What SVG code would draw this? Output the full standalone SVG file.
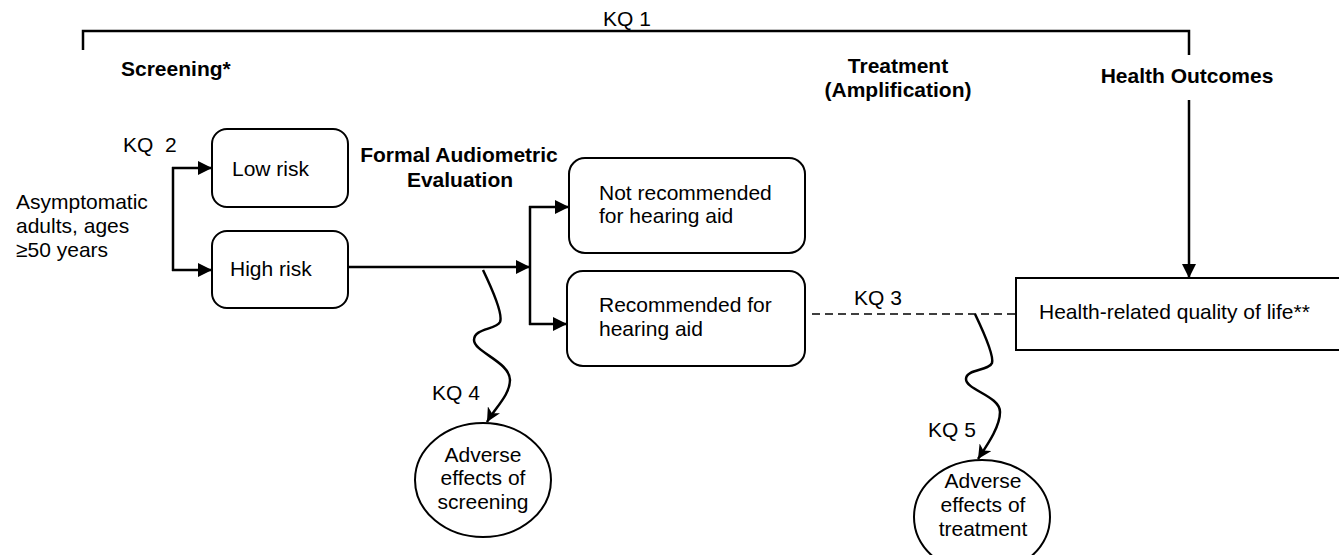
<svg xmlns="http://www.w3.org/2000/svg" width="1339" height="555" viewBox="0 0 1339 555">
<style>
text{font-family:"Liberation Sans",Arial,sans-serif;font-size:21px;fill:#000}
.b{font-weight:bold}
.m{text-anchor:middle}
.pre{white-space:pre}
.box{fill:#fff;stroke:#000;stroke-width:2}
.ln{fill:none;stroke:#000;stroke-width:2.5}
.dash{fill:none;stroke:#000;stroke-width:1.6;stroke-dasharray:8 5}
</style>
<defs>
<marker id="tri" markerUnits="userSpaceOnUse" markerWidth="15" markerHeight="14" refX="14" refY="7" orient="auto">
<path d="M0,0 L14,7 L0,14 z" fill="#000"/>
</marker>
<marker id="barb" markerUnits="userSpaceOnUse" markerWidth="16" markerHeight="14" refX="14" refY="7" orient="auto">
<path d="M0,0 L14,7 L0,14 L4,7 z" fill="#000"/>
</marker>
</defs>

<g id="labels">
<text x="603" y="26">KQ 1</text>
<text class="b" x="121" y="76">Screening*</text>
<text class="b m" x="898" y="73">Treatment</text>
<text class="b m" x="898" y="97">(Amplification)</text>
<text class="b m" x="1187" y="83">Health Outcomes</text>
<text class="b m" x="459" y="162">Formal Audiometric</text>
<text class="b m" x="460" y="187">Evaluation</text>
<text class="pre" x="123" y="152">KQ  2</text>
<text x="854" y="305">KQ 3</text>
<text x="432" y="400">KQ 4</text>
<text x="928" y="437">KQ 5</text>
</g>

<g id="connectors">
<polyline class="ln" points="83,50 83,31 1189,31 1189,55"/>
<line class="ln" x1="1189" y1="100" x2="1189" y2="278" marker-end="url(#tri)"/>
<line class="ln" x1="173" y1="167" x2="173" y2="271"/>
<line class="ln" x1="172" y1="168" x2="212" y2="168" marker-end="url(#tri)"/>
<line class="ln" x1="172" y1="270" x2="212" y2="270" marker-end="url(#tri)"/>
<line class="ln" x1="348" y1="267" x2="530" y2="267" marker-end="url(#tri)"/>
<line class="ln" x1="530" y1="206" x2="530" y2="325"/>
<line class="ln" x1="529" y1="207" x2="569" y2="207" marker-end="url(#tri)"/>
<line class="ln" x1="529" y1="324" x2="567" y2="324" marker-end="url(#tri)"/>
<line class="dash" x1="812" y1="314" x2="1016" y2="314"/>
<path class="ln" d="M483,270 C495,295 503,315 500,322 C496,330 474,328 474,340 C474,352 510,362 510,380 C510,395 495,408 487,422" marker-end="url(#barb)"/>
<path class="ln" d="M975,314 C986,337 994,356 992,363 C989,371 966,369 966,379 C966,390 1000,396 1000,412 C1000,428 985,448 978,459" marker-end="url(#barb)"/>
</g>

<g id="start">
<text x="16" y="209">Asymptomatic</text>
<text x="16" y="233">adults, ages</text>
<text x="16" y="257">≥50 years</text>
</g>

<g id="lowrisk">
<rect class="box" x="212" y="129" width="136" height="78" rx="15"/>
<text x="232" y="176">Low risk</text>
</g>

<g id="highrisk">
<rect class="box" x="212" y="231" width="136" height="77" rx="15"/>
<text x="230" y="276">High risk</text>
</g>

<g id="notrec">
<rect class="box" x="569" y="158" width="236" height="95" rx="16"/>
<text x="599" y="200">Not recommended</text>
<text x="599" y="223">for hearing aid</text>
</g>

<g id="rec">
<rect class="box" x="567" y="271" width="238" height="95" rx="16"/>
<text x="599" y="312">Recommended for</text>
<text x="599" y="336">hearing aid</text>
</g>

<g id="hrqol">
<rect class="box" x="1016" y="278" width="340" height="72"/>
<text x="1039" y="319">Health-related quality of life**</text>
</g>

<g id="adv-screening">
<ellipse class="box" cx="483" cy="480" rx="68" ry="57"/>
<text class="m" x="483" y="462">Adverse</text>
<text class="m" x="483" y="485">effects of</text>
<text class="m" x="483" y="509">screening</text>
</g>

<g id="adv-treatment">
<ellipse class="box" cx="982" cy="517" rx="68" ry="57"/>
<text class="m" x="983" y="488">Adverse</text>
<text class="m" x="983" y="512">effects of</text>
<text class="m" x="983" y="536">treatment</text>
</g>
</svg>
